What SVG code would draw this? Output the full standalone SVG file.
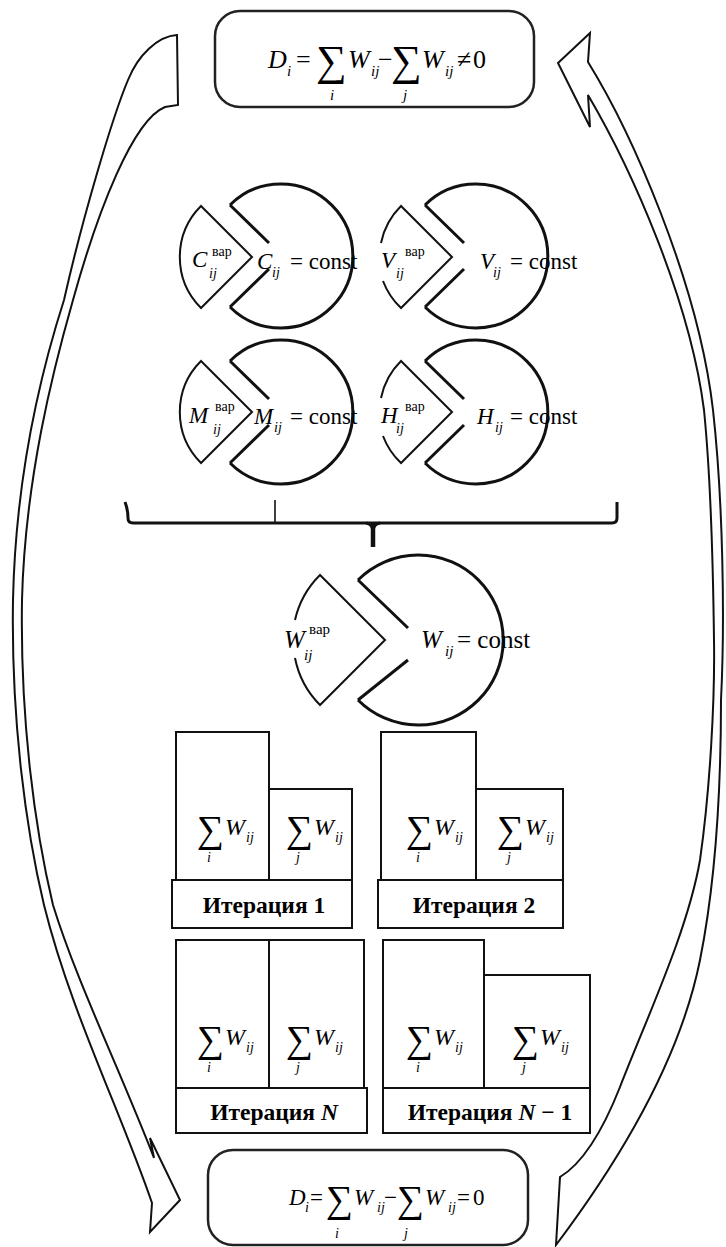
<svg xmlns="http://www.w3.org/2000/svg" width="726" height="1247" viewBox="0 0 726 1247">
<style>
text{font-family:'Liberation Serif','Times New Roman',serif;fill:#000}
.i{font-style:italic}
.b{font-weight:bold}
.box{fill:#fff;stroke:#222;stroke-width:2.5}
.rect{fill:#fff;stroke:#111;stroke-width:2}
.pac{fill:none;stroke:#111;stroke-width:3;stroke-linecap:butt}
.wedge{fill:none;stroke:#111;stroke-width:2;stroke-linejoin:miter}
.arrow{fill:#fff;stroke:#111;stroke-width:2;stroke-linejoin:miter}
.brace{fill:none;stroke:#111;stroke-width:3}
</style>
<rect width="726" height="1247" fill="#fff"/>
<g id="connectors">
<path class="arrow" d="M177,35 C158,36 138,55 128,80 C112,118 82,220 64,300 C48,350 16,460 13,600 C11,720 26,830 44,905 C70,1010 120,1110 152,1203 L150,1232 L180,1200 L150,1138 L154,1158 C120,1070 76,980 53,905 C35,830 20,720 22,600 C25,480 53,370 73,300 C98,210 133,120 165,107 L178,105 Z"/>
<path class="arrow" d="M558,63 L590,33 L588,62 C630,130 698,280 713,410 C723,500 725,620 721,700 C721,800 714,890 700,960 C680,1060 620,1160 556,1245 L560,1177 C585,1162 605,1125 620,1087 C648,1015 688,930 700,860 C710,790 715,700 714,640 C713,560 710,470 704,410 C690,300 632,170 588,95 L590,127 Z"/>
<path class="brace" d="M125,502 Q128,510 128,518 Q128,523 133,523 L612,523 Q617,523 617,518 L617,502"/>
<path d="M373,523 L373,547" fill="none" stroke="#111" stroke-width="4.5"/>
<path d="M366,523 Q373,524 373,532 M380,523 Q373,524 373,532" fill="none" stroke="#111" stroke-width="3"/>
<path d="M275,500 L275,523" fill="none" stroke="#111" stroke-width="1.6"/>
</g>
<g id="top-box">
<rect class="box" x="215" y="11" width="319" height="96" rx="25"/>
<text font-size="26"><tspan class="i" x="268" y="68">D</tspan><tspan class="i" x="287" y="76" font-size="15">i</tspan><tspan x="296" y="68">=</tspan><tspan x="316" y="75" font-size="43">∑</tspan><tspan class="i" x="348" y="68">W</tspan><tspan class="i" x="371" y="76" font-size="15">ij</tspan><tspan x="378" y="68">−</tspan><tspan x="391" y="75" font-size="43">∑</tspan><tspan class="i" x="422" y="68">W</tspan><tspan class="i" x="445" y="76" font-size="15">ij</tspan><tspan x="457" y="68">≠</tspan><tspan x="473" y="68">0</tspan><tspan class="i" font-size="15" x="330" y="100">i</tspan><tspan class="i" font-size="15" x="403" y="100">j</tspan></text>
</g>
<g id="node-C">
<path class="pac" d="M230,205 A72,72 0 1 1 230,307 M230,205 L269,243 M230,307 L269,269"/>
<path class="wedge" d="M201,206 L252,257 L201,308 A72,72 0 0 1 201,206 Z"/>
<text font-size="23"><tspan class="i" x="192" y="267">C</tspan><tspan x="212" y="256" font-size="14">вар</tspan><tspan class="i" x="209" y="278" font-size="14">ij</tspan></text>
<text font-size="23"><tspan class="i" x="257" y="269">C</tspan><tspan class="i" x="272" y="277" font-size="14">ij</tspan><tspan x="290" y="269">= const</tspan></text>
</g>
<g id="node-V">
<path class="pac" d="M425,205 A72,72 0 1 1 425,307 M425,205 L464,243 M425,307 L464,269"/>
<path class="wedge" d="M383,281 A72,72 0 0 0 401,308 L452,257 L401,206 A72,72 0 0 0 381,243"/>
<text font-size="23"><tspan class="i" x="381" y="268">V</tspan><tspan x="405" y="256" font-size="14">вар</tspan><tspan class="i" x="396" y="278" font-size="14">ij</tspan></text>
<text font-size="23"><tspan class="i" x="480" y="269">V</tspan><tspan class="i" x="493" y="277" font-size="14">ij</tspan><tspan x="510" y="269">= const</tspan></text>
</g>
<g id="node-M">
<path class="pac" d="M230,361 A72,72 0 1 1 230,463 M230,361 L269,399 M230,463 L269,425"/>
<path class="wedge" d="M201,361 L252,412 L201,463 A72,72 0 0 1 201,361 Z"/>
<text font-size="23"><tspan class="i" x="189" y="423">M</tspan><tspan x="215" y="411" font-size="14">вар</tspan><tspan class="i" x="213" y="434" font-size="14">ij</tspan></text>
<text font-size="23"><tspan class="i" x="254" y="424">M</tspan><tspan class="i" x="274" y="432" font-size="14">ij</tspan><tspan x="290" y="424">= const</tspan></text>
</g>
<g id="node-H">
<path class="pac" d="M425,361 A72,72 0 1 1 425,463 M425,361 L464,399 M425,463 L464,425"/>
<path class="wedge" d="M383,436 A72,72 0 0 0 401,463 L452,412 L401,361 A72,72 0 0 0 381,398"/>
<text font-size="23"><tspan class="i" x="381" y="423">H</tspan><tspan x="405" y="411" font-size="14">вар</tspan><tspan class="i" x="396" y="433" font-size="14">ij</tspan></text>
<text font-size="23"><tspan class="i" x="477" y="424">H</tspan><tspan class="i" x="495" y="432" font-size="14">ij</tspan><tspan x="510" y="424">= const</tspan></text>
</g>
<g id="node-W">
<path class="pac" d="M358,580 A85,85 0 1 1 358,700 M358,580 L408,628 M358,700 L408,660"/>
<path class="wedge" d="M295,658 A92,92 0 0 0 320,705 L385,640 L320,575 A92,92 0 0 0 295,620"/>
<text font-size="25"><tspan class="i" x="284" y="648">W</tspan><tspan x="309" y="634" font-size="15">вар</tspan><tspan class="i" x="304" y="660" font-size="15">ij</tspan></text>
<text font-size="25"><tspan class="i" x="421" y="648">W</tspan><tspan class="i" x="445" y="656" font-size="15">ij</tspan><tspan x="457" y="648">= const</tspan></text>
</g>
<g id="iter-1">
<rect class="rect" x="176" y="732" width="93" height="148"/>
<rect class="rect" x="269" y="789" width="83" height="91"/>
<rect class="rect" x="172" y="880" width="180" height="48"/>
<text font-size="24"><tspan x="197" y="842" font-size="38">∑</tspan><tspan class="i" x="225" y="835">W</tspan><tspan class="i" x="246" y="842" font-size="14">ij</tspan><tspan class="i" x="207" y="862" font-size="14">i</tspan></text>
<text font-size="24"><tspan x="286" y="842" font-size="38">∑</tspan><tspan class="i" x="314" y="835">W</tspan><tspan class="i" x="335" y="842" font-size="14">ij</tspan><tspan class="i" x="296" y="862" font-size="14">j</tspan></text>
<text class="b" font-size="23.5" x="264" y="913" text-anchor="middle">Итерация 1</text>
</g>
<g id="iter-2">
<rect class="rect" x="381" y="732" width="95" height="148"/>
<rect class="rect" x="476" y="789" width="87" height="91"/>
<rect class="rect" x="378" y="880" width="185" height="48"/>
<text font-size="24"><tspan x="406" y="842" font-size="38">∑</tspan><tspan class="i" x="434" y="835">W</tspan><tspan class="i" x="455" y="842" font-size="14">ij</tspan><tspan class="i" x="416" y="862" font-size="14">i</tspan></text>
<text font-size="24"><tspan x="497" y="842" font-size="38">∑</tspan><tspan class="i" x="525" y="835">W</tspan><tspan class="i" x="546" y="842" font-size="14">ij</tspan><tspan class="i" x="507" y="862" font-size="14">j</tspan></text>
<text class="b" font-size="23.5" x="474" y="913" text-anchor="middle">Итерация 2</text>
</g>
<g id="iter-N">
<rect class="rect" x="176" y="940" width="93" height="148"/>
<rect class="rect" x="269" y="940" width="95" height="148"/>
<rect class="rect" x="176" y="1088" width="191" height="45"/>
<text font-size="24"><tspan x="197" y="1052" font-size="38">∑</tspan><tspan class="i" x="225" y="1045">W</tspan><tspan class="i" x="246" y="1052" font-size="14">ij</tspan><tspan class="i" x="207" y="1072" font-size="14">i</tspan></text>
<text font-size="24"><tspan x="286" y="1052" font-size="38">∑</tspan><tspan class="i" x="314" y="1045">W</tspan><tspan class="i" x="335" y="1052" font-size="14">ij</tspan><tspan class="i" x="296" y="1072" font-size="14">j</tspan></text>
<text class="b" font-size="23.5" x="274" y="1120" text-anchor="middle">Итерация <tspan class="i">N</tspan></text>
</g>
<g id="iter-N-1">
<rect class="rect" x="383" y="940" width="101" height="148"/>
<rect class="rect" x="484" y="975" width="106" height="113"/>
<rect class="rect" x="383" y="1088" width="207" height="45"/>
<text font-size="24"><tspan x="406" y="1052" font-size="38">∑</tspan><tspan class="i" x="434" y="1045">W</tspan><tspan class="i" x="455" y="1052" font-size="14">ij</tspan><tspan class="i" x="416" y="1072" font-size="14">i</tspan></text>
<text font-size="24"><tspan x="512" y="1052" font-size="38">∑</tspan><tspan class="i" x="540" y="1045">W</tspan><tspan class="i" x="561" y="1052" font-size="14">ij</tspan><tspan class="i" x="522" y="1072" font-size="14">j</tspan></text>
<text class="b" font-size="23.5" x="490" y="1120" text-anchor="middle">Итерация <tspan class="i">N</tspan> − 1</text>
</g>
<g id="bottom-box">
<rect class="box" x="208" y="1150" width="320" height="95" rx="25"/>
<text font-size="23"><tspan class="i" x="289" y="1205">D</tspan><tspan class="i" x="305" y="1212" font-size="14">i</tspan><tspan x="310" y="1205">=</tspan><tspan x="326" y="1212" font-size="38">∑</tspan><tspan class="i" x="354" y="1205">W</tspan><tspan class="i" x="377" y="1212" font-size="14">ij</tspan><tspan x="384" y="1205">−</tspan><tspan x="397" y="1212" font-size="38">∑</tspan><tspan class="i" x="425" y="1205">W</tspan><tspan class="i" x="448" y="1212" font-size="14">ij</tspan><tspan x="457" y="1205">=</tspan><tspan x="473" y="1205">0</tspan><tspan class="i" font-size="14" x="335" y="1238">i</tspan><tspan class="i" font-size="14" x="404" y="1238">j</tspan></text>
</g>
</svg>
